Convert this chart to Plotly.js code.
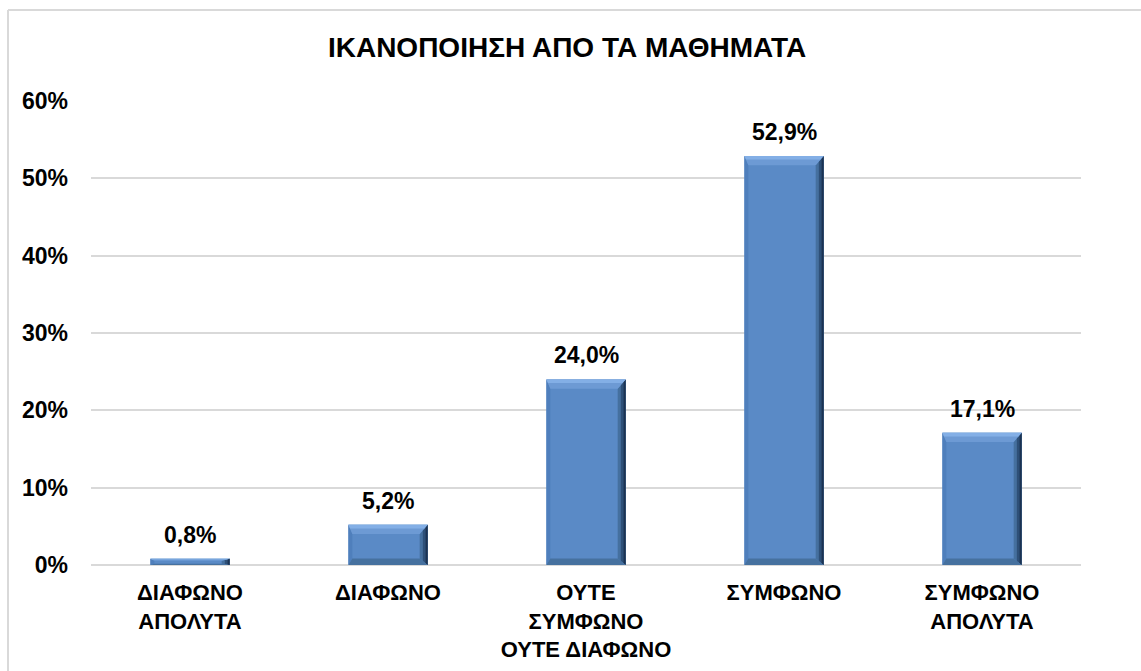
<!DOCTYPE html>
<html>
<head>
<meta charset="utf-8">
<script src="https://cdn.plot.ly/plotly-3.0.1.min.js"></script>
<style>
  html, body { margin: 0; padding: 0; background: #fff; }
  #chart { width: 1141px; height: 671px; }
</style>
</head>
<body>
<div id="chart"></div>
<script>
const categories = ['ΔΙΑΦΩΝΟ<br>ΑΠΟΛΥΤΑ', 'ΔΙΑΦΩΝΟ', 'ΟΥΤΕ<br>ΣΥΜΦΩΝΟ<br>ΟΥΤΕ ΔΙΑΦΩΝΟ', 'ΣΥΜΦΩΝΟ', 'ΣΥΜΦΩΝΟ<br>ΑΠΟΛΥΤΑ'];
const values = [0.8, 5.2, 24.0, 52.9, 17.1];
const valueLabels = ['0,8%', '5,2%', '24,0%', '52,9%', '17,1%'];
const yTickVals = [0, 10, 20, 30, 40, 50, 60];
const yTickText = ['0%', '10%', '20%', '30%', '40%', '50%', '60%'];
const chartTitle = 'ΙΚΑΝΟΠΟΙΗΣΗ ΑΠΟ ΤΑ ΜΑΘΗΜΑΤΑ';

const FONT = '"Liberation Sans", Arial, sans-serif';
const xIdx = categories.map((c, i) => i);
const half = 0.2;

const shapes = [];
values.forEach((v, i) => {
  const bx = 0.04;
  const by = Math.min(1.2, v * 0.3);
  const L = i - half, R = i + half;
  // left edge
  shapes.push({type: 'path', xref: 'x', yref: 'y', line: {width: 0}, fillcolor: '#4f7fbc',
    path: `M ${L},${v} L ${L},0 L ${L + bx * 0.5},${by * 0.7} L ${L + bx * 0.5},${v - by} Z`});
  // right edge (graded)
  shapes.push({type: 'path', xref: 'x', yref: 'y', line: {width: 0}, fillcolor: '#45709f',
    path: `M ${R},${v} L ${R},0 L ${R - bx},${by * 0.7} L ${R - bx},${v - by} Z`});
  shapes.push({type: 'path', xref: 'x', yref: 'y', line: {width: 0}, fillcolor: '#2e5078',
    path: `M ${R},${v} L ${R},0 L ${R - bx * 0.6},${by * 0.42} L ${R - bx * 0.6},${v - by * 0.6} Z`});
  shapes.push({type: 'path', xref: 'x', yref: 'y', line: {width: 0}, fillcolor: '#1c3352',
    path: `M ${R},${v} L ${R},0 L ${R - bx * 0.25},${by * 0.18} L ${R - bx * 0.25},${v - by * 0.25} Z`});
  // bottom edge
  shapes.push({type: 'path', xref: 'x', yref: 'y', line: {width: 0}, fillcolor: '#46719f',
    path: `M ${L},0 L ${R},0 L ${R - bx},${by * 0.7} L ${L + bx * 0.5},${by * 0.7} Z`});
  // top edge
  shapes.push({type: 'path', xref: 'x', yref: 'y', line: {width: 0}, fillcolor: '#6d9ad4',
    path: `M ${L},${v} L ${R},${v} L ${R - bx},${v - by} L ${L + bx * 0.5},${v - by} Z`});
  shapes.push({type: 'path', xref: 'x', yref: 'y', line: {width: 0}, fillcolor: '#83afe6',
    path: `M ${L},${v} L ${R},${v} L ${R - bx * 0.4},${v - by * 0.4} L ${L + bx * 0.2},${v - by * 0.4} Z`});
});

// chart border (left + top, as in reference)
shapes.push({type: 'line', xref: 'paper', yref: 'paper', layer: 'below',
  x0: -83 / 990, x1: -83 / 990, y0: -0.25, y1: 555 / 464, line: {color: '#d9d9d9', width: 2}});
shapes.push({type: 'line', xref: 'paper', yref: 'paper', layer: 'below',
  x0: -83 / 990, x1: 1.07, y0: 555 / 464, y1: 555 / 464, line: {color: '#d9d9d9', width: 2}});

const annotations = values.map((v, i) => ({
  x: i, y: v, xref: 'x', yref: 'y', text: '<b>' + valueLabels[i] + '</b>', showarrow: false,
  yanchor: 'bottom', yshift: 9, font: {family: FONT, size: 23, color: '#000'}
}));

const data = [{
  type: 'bar', x: xIdx, y: values, width: 0.4,
  marker: {color: '#5a8ac6', line: {width: 0}},
  hoverinfo: 'skip'
}];

const layout = {
  width: 1141, height: 671,
  margin: {l: 91, r: 60, t: 101, b: 106},
  paper_bgcolor: '#fff', plot_bgcolor: '#fff',
  showlegend: false,
  title: {text: '<b>' + chartTitle + '</b>', x: 0.497, xref: 'container', y: 1 - 47 / 671, yref: 'container',
    xanchor: 'center', yanchor: 'middle', font: {family: FONT, size: 28, color: '#000'}},
  xaxis: {range: [-0.5, 4.5], tickvals: xIdx, ticktext: categories.map(c => '<b>' + c + '</b>'),
    showgrid: false, zeroline: false, showline: false, ticks: '', ticklabelstandoff: 12,
    tickfont: {family: FONT, size: 22, color: '#000'}, fixedrange: true},
  yaxis: {range: [0, 60], tickvals: yTickVals, ticktext: yTickText.map(t => '<b>' + t + '</b>'),
    showgrid: true, gridcolor: '#d9d9d9', gridwidth: 2, zeroline: true, zerolinecolor: '#d9d9d9', zerolinewidth: 2,
    showline: false, ticks: '', ticklabelstandoff: 22,
    tickfont: {family: FONT, size: 23, color: '#000'}, fixedrange: true},
  shapes: shapes,
  annotations: annotations
};

Plotly.newPlot('chart', data, layout, {displayModeBar: false, staticPlot: true});
</script>
</body>
</html>
